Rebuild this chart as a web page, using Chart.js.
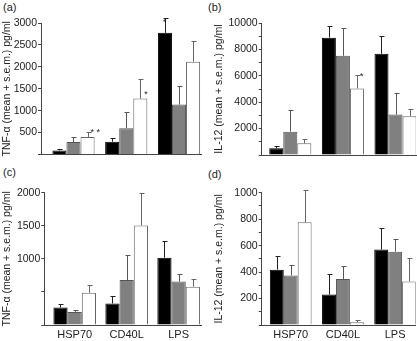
<!DOCTYPE html>
<html>
<head>
<meta charset="utf-8">
<script src="https://cdn.jsdelivr.net/npm/chart.js@4.4.1/dist/chart.umd.min.js"></script>
<style>
body { margin:0; background:#fff; width:417px; height:341px; position:relative; overflow:hidden; font-family:"Liberation Sans", Arial, sans-serif; }
.panel { position:absolute; }
.tag { position:absolute; font-size:11px; line-height:11px; color:#222; }
</style>
</head>
<body>
<div class="tag" style="left:3px;top:2px">(a)</div>
<div class="tag" style="left:208px;top:2px">(b)</div>
<div class="tag" style="left:3px;top:167px">(c)</div>
<div class="tag" style="left:208px;top:169px">(d)</div>
<div class="panel" style="left:0;top:0;width:205px;height:165px"><canvas id="ca"></canvas></div>
<div class="panel" style="left:205px;top:0;width:212px;height:165px"><canvas id="cb"></canvas></div>
<div class="panel" style="left:0;top:165px;width:205px;height:176px"><canvas id="cc"></canvas></div>
<div class="panel" style="left:205px;top:165px;width:212px;height:176px"><canvas id="cd"></canvas></div>
<script>
const categories = ['HSP70', 'CD40L', 'LPS'];

// (a) TNF-alpha
const tnfA_black = [90, 290, 2775];
const tnfA_blackSem = [40, 95, 345];
const tnfA_grey = [285, 600, 1140];
const tnfA_greySem = [125, 360, 420];
const tnfA_white = [400, 1275, 2115];
const tnfA_whiteSem = [115, 455, 465];
const tnfA_ticks = [500, 1000, 1500, 2000, 2500, 3000];

// (b) IL-12
const il12B_black = [505, 8890, 7670];
const il12B_blackSem = [175, 910, 1370];
const il12B_grey = [1770, 7520, 3060];
const il12B_greySem = [1630, 2100, 1620];
const il12B_white = [885, 5040, 2940];
const il12B_whiteSem = [305, 1010, 550];
const il12B_ticks = [2000, 4000, 6000, 8000, 10000];

// (c) TNF-alpha
const tnfC_black = [264, 325, 1017];
const tnfC_blackSem = [61, 112, 259];
const tnfC_grey = [197, 681, 656];
const tnfC_greySem = [35, 371, 122];
const tnfC_white = [488, 1505, 580];
const tnfC_whiteSem = [122, 493, 122];
const tnfC_ticks = [1000, 1500, 2000];

// (d) IL-12
const il12D_black = [418, 230, 570];
const il12D_blackSem = [104, 157, 162];
const il12D_grey = [375, 347, 554];
const il12D_greySem = [75, 101, 94];
const il12D_white = [777, 20, 329];
const il12D_whiteSem = [241, 15, 175];
const il12D_ticks = [200, 400, 600, 800, 1000];

// significance marks: category, series (0 black,1 grey,2 white), text, where
const marksA = [
  { cat: 0, series: 2, text: '* *', at: 'cap' },
  { cat: 1, series: 2, text: '*', at: 'corner' },
  { cat: 2, series: 0, text: '*', at: 'line' }
];
const marksB = [{ cat: 1, series: 2, text: '*', at: 'cap' }];

Chart.defaults.font.family = '"Liberation Sans", Arial, sans-serif';
Chart.defaults.font.size = 10.5;
Chart.defaults.color = '#222';

const errorBars = {
  id: 'errorBars',
  afterDatasetsDraw(chart) {
    const ctx = chart.ctx;
    const ys = chart.scales.y;
    chart.data.datasets.forEach((ds, di) => {
      chart.getDatasetMeta(di).data.forEach((bar, i) => {
        const top = Math.round(ys.getPixelForValue(ds.data[i].y + ds.sem[i])) + 0.5;
        const x = Math.round(bar.x) + 0.5;
        ctx.save();
        ctx.strokeStyle = ds.errColor;
        ctx.lineWidth = 1;
        ctx.beginPath();
        ctx.moveTo(x, bar.y);
        ctx.lineTo(x, top);
        ctx.moveTo(x - 2, top);
        ctx.lineTo(x + 3, top);
        ctx.stroke();
        ctx.restore();
      });
    });
    (chart.config._marks || []).forEach(m => {
      const ds = chart.data.datasets[m.series];
      const bar = chart.getDatasetMeta(m.series).data[m.cat];
      const top = ys.getPixelForValue(ds.data[m.cat].y + ds.sem[m.cat]);
      ctx.save();
      ctx.fillStyle = '#222';
      ctx.font = '9px "Liberation Sans", Arial, sans-serif';
      ctx.textBaseline = 'middle';
      ctx.textAlign = 'left';
      let x, y;
      if (m.at === 'cap') { x = bar.x + 3; y = top + 1; }
      else if (m.at === 'corner') { x = bar.x + bar.width / 2 - 3; y = bar.y - 4; }
      else { x = bar.x - 2; y = top + 5; }
      ctx.fillText(m.text, x, y);
      ctx.restore();
    });
  }
};

function panel(id, o) {
  const series = [
    { d: o.black, s: o.blackSem, bg: '#000', bc: '#000', ec: '#222' },
    { d: o.grey, s: o.greySem, bg: '#808080', bc: '#555', ec: '#555' },
    { d: o.white, s: o.whiteSem, bg: '#fff', bc: '#666', ec: '#666' }
  ];
  const cfg = {
    type: 'bar',
    data: {
      datasets: series.map(p => ({
        data: p.d.map((v, i) => ({ x: i, y: v })),
        sem: p.s,
        errColor: p.ec,
        backgroundColor: p.bg,
        borderColor: p.bc,
        borderWidth: 1,
        borderSkipped: 'start',
        categoryPercentage: o.groupW,
        barPercentage: 1
      }))
    },
    options: {
      responsive: true,
      maintainAspectRatio: false,
      animation: false,
      layout: { padding: o.pad },
      plugins: { legend: { display: false }, tooltip: { enabled: false } },
      scales: {
        x: {
          type: 'linear',
          offset: false,
          min: o.xmin,
          max: o.xmax,
          afterBuildTicks: s => { s.ticks = categories.map((c, i) => ({ value: i })); },
          afterFit: s => { s.height = o.xHeight; },
          border: { color: '#444', width: 1 },
          grid: { display: false, drawTicks: false },
          ticks: {
            display: o.showCats,
            callback: v => categories[v],
            padding: 3,
            maxRotation: 0,
            autoSkip: false,
            font: { size: 11 }
          }
        },
        y: {
          min: 0,
          max: o.ymax,
          afterFit: s => { s.width = o.yWidth; },
          border: { color: '#444', width: 1 },
          grid: { drawOnChartArea: false, drawTicks: true, tickLength: 3, color: '#444' },
          ticks: {
            stepSize: o.step,
            autoSkip: false,
            padding: 1,
            callback: v => o.labelled.includes(v) ? String(v) : ''
          },
          title: { display: true, text: o.title, font: { size: 10.5 }, padding: { top: 1, bottom: 0 } }
        }
      }
    },
    plugins: [errorBars]
  };
  cfg._marks = o.marks;
  const c = new Chart(document.getElementById(id), cfg);
  c.config._marks = o.marks;
  c.draw();
}

panel('ca', {
  black: tnfA_black, blackSem: tnfA_blackSem, grey: tnfA_grey, greySem: tnfA_greySem,
  white: tnfA_white, whiteSem: tnfA_whiteSem, labelled: tnfA_ticks, marks: marksA,
  title: 'TNF-α (mean + s.e.m.) pg/ml', ymax: 3000, step: 500,
  pad: { left: 0, right: 4, top: 23, bottom: 10.5 }, yWidth: 41, xHeight: 0, showCats: false,
  xmin: -0.616, xmax: 2.417, groupW: 0.8
});
panel('cb', {
  black: il12B_black, blackSem: il12B_blackSem, grey: il12B_grey, greySem: il12B_greySem,
  white: il12B_white, whiteSem: il12B_whiteSem, labelled: il12B_ticks, marks: marksB,
  title: 'IL-12 (mean + s.e.m.) pg/ml', ymax: 10000, step: 1000,
  pad: { left: 7, right: 1, top: 23, bottom: 10 }, yWidth: 49.7, xHeight: 0, showCats: false,
  xmin: -0.543, xmax: 2.389, groupW: 0.8
});
panel('cc', {
  black: tnfC_black, blackSem: tnfC_blackSem, grey: tnfC_grey, greySem: tnfC_greySem,
  white: tnfC_white, whiteSem: tnfC_whiteSem, labelled: tnfC_ticks, marks: [],
  title: 'TNF-α (mean + s.e.m.) pg/ml', ymax: 2000, step: 500,
  pad: { left: 0, right: 4, top: 27.7, bottom: 0 }, yWidth: 44.3, xHeight: 16, showCats: true,
  xmin: -0.585, xmax: 2.43, groupW: 0.82
});
panel('cd', {
  black: il12D_black, blackSem: il12D_blackSem, grey: il12D_grey, greySem: il12D_greySem,
  white: il12D_white, whiteSem: il12D_whiteSem, labelled: il12D_ticks, marks: [],
  title: 'IL-12 (mean + s.e.m.) pg/ml', ymax: 1000, step: 100,
  pad: { left: 7, right: 1.5, top: 27.7, bottom: 0 }, yWidth: 49.7, xHeight: 16, showCats: true,
  xmin: -0.556, xmax: 2.39, groupW: 0.8
});
</script>
</body>
</html>
